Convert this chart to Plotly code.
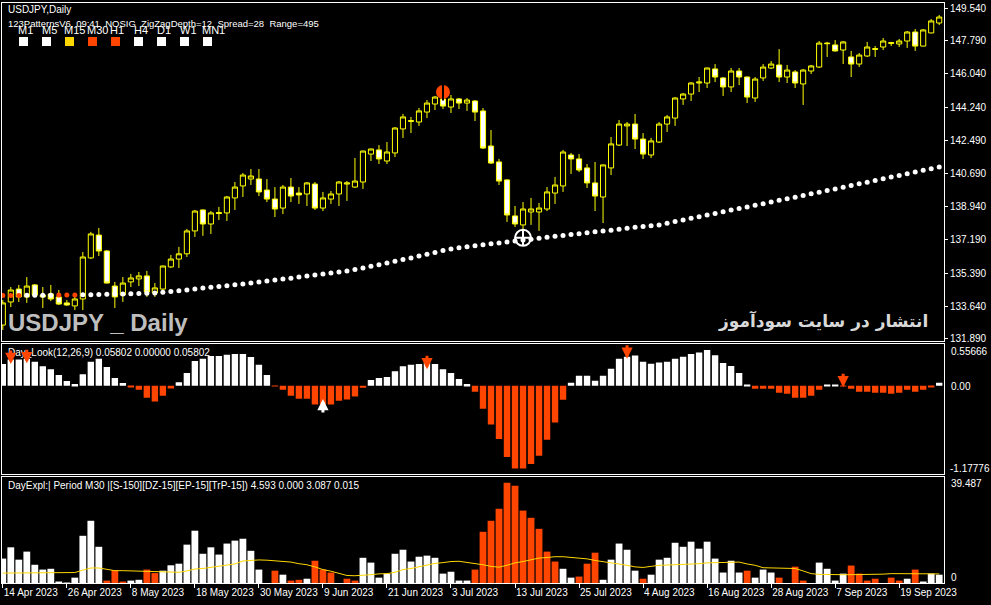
import pandas as pd
import plotly.graph_objects as go

# ---- data ----
dates = pd.bdate_range("2023-04-14", periods=118).strftime("%Y-%m-%d").tolist()

tick_labels = ["14 Apr 2023", "26 Apr 2023", "8 May 2023", "18 May 2023", "30 May 2023",
               "9 Jun 2023", "21 Jun 2023", "3 Jul 2023", "13 Jul 2023", "25 Jul 2023",
               "4 Aug 2023", "16 Aug 2023", "28 Aug 2023", "7 Sep 2023", "19 Sep 2023"]
tick_dates = dates[::8]

price_ticks = [149.540, 147.790, 146.040, 144.240, 142.490, 140.690,
               138.940, 137.190, 135.390, 133.640, 131.890]

open_ = [132.63, 133.86, 134.55, 134.13, 134.77, 134.13, 134.29, 134.13, 133.81, 133.65,
         134.02, 136.21, 137.43, 136.58, 134.71, 134.23, 134.93, 135.09, 135.25, 134.34,
         134.55, 135.73, 136.15, 136.43, 137.65, 138.77, 138.02, 138.63, 138.61, 139.41,
         140.05, 140.42, 140.42, 139.83, 139.35, 138.87, 139.99, 139.67, 139.62, 140.15,
         138.87, 139.35, 139.62, 140.15, 139.99, 140.26, 141.75, 141.97, 141.38, 141.81,
         143.09, 143.49, 143.46, 143.99, 144.42, 144.69, 144.26, 144.69, 144.47, 144.58,
         144.05, 142.18, 141.33, 140.37, 138.45, 137.97, 138.66, 138.66, 138.82, 139.67,
         140.05, 141.70, 141.49, 141.01, 140.21, 139.46, 141.01, 142.23, 143.25, 143.35,
         142.55, 141.70, 142.39, 143.35, 143.67, 144.69, 144.95, 145.54, 145.54, 146.29,
         145.81, 145.33, 146.18, 145.86, 144.74, 145.81, 146.34, 146.50, 145.86, 146.13,
         145.49, 146.18, 146.39, 147.67, 147.57, 147.30, 146.93, 146.55, 146.98, 147.33,
         147.46, 147.65, 147.62, 147.78, 148.26, 147.51, 148.21, 148.74]
high = [133.97, 134.66, 134.77, 135.19, 134.82, 134.66, 134.77, 134.50, 133.97, 134.23,
        136.53, 137.60, 137.81, 136.63, 134.93, 135.19, 135.36, 135.46, 135.52, 134.87,
        135.80, 136.37, 136.80, 137.76, 138.77, 138.79, 138.71, 138.93, 139.51, 140.26,
        140.74, 140.95, 140.95, 140.42, 139.99, 140.10, 140.47, 139.99, 140.26, 140.26,
        139.73, 139.78, 140.31, 140.31, 141.54, 141.93, 142.04, 142.23, 142.39, 143.19,
        143.89, 143.73, 144.21, 144.63, 144.85, 145.06, 144.90, 144.74, 144.74, 144.63,
        144.21, 143.03, 141.49, 140.40, 138.98, 139.19, 139.41, 139.14, 139.99, 140.53,
        141.97, 141.81, 141.75, 141.22, 141.33, 141.19, 142.66, 143.57, 143.46, 143.89,
        142.87, 142.61, 143.46, 143.83, 144.79, 145.01, 145.59, 145.86, 146.36, 146.55,
        145.86, 146.34, 146.34, 145.88, 145.86, 146.55, 146.71, 147.35, 146.50, 146.23,
        146.29, 146.50, 147.78, 147.73, 147.83, 147.78, 147.25, 147.14, 147.73, 147.51,
        147.94, 147.73, 147.89, 148.31, 148.42, 148.42, 148.95, 149.17]
low = [132.37, 133.59, 133.86, 133.81, 134.13, 133.54, 133.91, 133.70, 133.65, 133.43,
       133.43, 136.15, 136.31, 134.85, 133.54, 133.86, 134.66, 134.71, 134.13, 134.13,
       134.39, 135.67, 135.67, 136.26, 137.33, 137.39, 137.49, 138.23, 138.18, 138.77,
       139.46, 140.10, 139.51, 139.19, 138.39, 138.55, 139.19, 139.09, 138.98, 138.77,
       138.71, 139.09, 138.98, 139.25, 139.94, 139.89, 141.38, 141.22, 141.22, 141.59,
       142.61, 142.87, 143.25, 143.67, 144.10, 144.15, 143.94, 144.15, 144.05, 143.51,
       142.02, 141.22, 140.10, 138.13, 137.86, 137.70, 137.97, 137.65, 138.71, 139.09,
       139.73, 140.69, 140.79, 139.94, 138.71, 138.07, 140.63, 142.18, 142.18, 142.02,
       141.49, 141.54, 142.34, 142.93, 143.25, 144.37, 144.58, 145.06, 145.27, 145.59,
       144.85, 145.06, 145.43, 144.47, 144.53, 145.65, 146.29, 145.59, 145.54, 145.27,
       144.37, 146.02, 146.34, 146.93, 147.22, 146.55, 145.86, 146.39, 146.93, 146.93,
       147.30, 147.51, 147.46, 147.41, 147.25, 147.49, 148.19, 148.63]
close = [133.81, 134.50, 134.13, 134.71, 134.23, 134.23, 134.02, 133.75, 133.70, 134.02,
         136.26, 137.49, 136.58, 134.87, 134.13, 134.87, 135.14, 135.25, 134.39, 134.61,
         135.78, 136.15, 136.43, 137.65, 138.71, 138.02, 138.61, 138.58, 139.46, 139.99,
         140.63, 140.58, 139.73, 139.35, 138.82, 139.99, 139.51, 139.57, 140.21, 138.87,
         139.41, 139.62, 140.26, 140.21, 140.31, 141.91, 142.02, 141.49, 141.86, 143.14,
         143.73, 143.53, 144.05, 144.47, 144.79, 144.31, 144.69, 144.47, 144.63, 143.99,
         142.07, 141.27, 140.31, 138.50, 138.02, 138.82, 138.82, 138.87, 139.73, 140.10,
         141.86, 141.49, 140.90, 140.21, 139.51, 141.17, 142.29, 143.35, 143.35, 142.55,
         141.75, 142.45, 143.35, 143.73, 144.74, 144.95, 145.54, 145.59, 146.34, 145.86,
         145.33, 146.18, 145.86, 144.79, 145.75, 146.39, 146.55, 145.86, 146.23, 145.54,
         146.23, 146.45, 147.67, 147.64, 147.25, 147.73, 146.55, 147.03, 147.46, 147.37,
         147.78, 147.69, 147.78, 148.26, 147.51, 148.37, 148.85, 149.06]

# dotted moving average
ma = [134.21, 134.21, 134.21, 134.22, 134.22, 134.22, 134.22, 134.23, 134.23, 134.23,
      134.24, 134.25, 134.26, 134.27, 134.28, 134.29, 134.30, 134.31, 134.32, 134.34,
      134.38, 134.42, 134.46, 134.50, 134.55, 134.60, 134.65, 134.69, 134.73, 134.78,
      134.82, 134.87, 134.92, 134.98, 135.03, 135.08, 135.13, 135.19, 135.24, 135.30,
      135.35, 135.40, 135.46, 135.51, 135.59, 135.67, 135.76, 135.85, 135.94, 136.03,
      136.12, 136.21, 136.31, 136.40, 136.50, 136.60, 136.69, 136.75, 136.80, 136.86,
      136.91, 136.96, 137.01, 137.06, 137.11, 137.17, 137.21, 137.26, 137.31, 137.36,
      137.41, 137.46, 137.50, 137.55, 137.60, 137.64, 137.69, 137.74, 137.79, 137.84,
      137.89, 137.93, 137.97, 138.06, 138.15, 138.23, 138.32, 138.41, 138.50, 138.58,
      138.67, 138.76, 138.84, 138.93, 139.02, 139.10, 139.19, 139.28, 139.36, 139.45,
      139.54, 139.63, 139.71, 139.80, 139.89, 139.98, 140.07, 140.16, 140.25, 140.34,
      140.43, 140.52, 140.61, 140.70, 140.79, 140.88, 140.97, 141.06]
ma_red_bars = [0, 1, 2, 7, 8, 9]

# zigzag signals on the price panel
peak_bar, peak_price = 55, 145.06
cross_bar, cross_price = 65, 137.28

# Day_Look histogram
look = [0.29, 0.35, 0.35, 0.36, 0.32, 0.26, 0.22, 0.145, 0.063, 0.023,
        0.155, 0.32, 0.36, 0.25, 0.103, 0.036, -0.013, -0.053, -0.161, -0.213,
        -0.135, -0.039, 0.048, 0.17, 0.33, 0.36, 0.40, 0.40, 0.415, 0.425,
        0.425, 0.385, 0.28, 0.145, -0.01, -0.053, -0.135, -0.174, -0.174, -0.251,
        -0.251, -0.251, -0.203, -0.184, -0.145, -0.029, 0.077, 0.103, 0.116, 0.193,
        0.26, 0.28, 0.29, 0.31, 0.29, 0.22, 0.17, 0.09, 0.023, -0.08,
        -0.31, -0.52, -0.715, -0.955, -1.11, -1.11, -1.05, -0.94, -0.725, -0.495,
        -0.19, 0.04, 0.135, 0.135, 0.068, 0.135, 0.228, 0.36, 0.39, 0.405,
        0.32, 0.295, 0.31, 0.32, 0.36, 0.39, 0.425, 0.445, 0.48, 0.41,
        0.305, 0.265, 0.17, 0.01, -0.04, -0.04, -0.04, -0.094, -0.107, -0.16,
        -0.16, -0.134, -0.054, 0.008, 0.008, -0.005, -0.04, -0.08, -0.08, -0.094,
        -0.094, -0.107, -0.094, -0.054, -0.08, -0.054, -0.013, 0.04]
# signal arrows: bar index and the value at the arrow tip
down_arrow_bars = [1, 3, 53, 78, 105]
down_arrow_tips = [0.29, 0.30, 0.22, 0.36, -0.02]
up_arrow_bars = [40]
up_arrow_tips = [-0.18]

# DayExpl histogram (W = white bar, R = orange-red bar) and its signal line
expl = [9.1, 13.3, 8.7, 11.7, 6.8, 5.0, 5.3, 0.5, 0.1, 2.0,
        17.6, 23.2, 13.5, 0.9, 4.8, 0.5, 0.9, 1.2, 5.0, 3.7,
        4.6, 6.6, 7.2, 14.3, 19.5, 10.9, 13.3, 10.6, 14.7, 15.8,
        16.5, 12.0, 5.0, 0.0, 4.6, 3.1, 0.9, 1.2, 1.6, 8.3,
        5.0, 3.9, 0.0, 1.6, 0.9, 9.4, 7.6, 2.0, 3.5, 10.9,
        12.4, 8.0, 9.8, 10.2, 9.4, 3.5, 4.2, 0.9, 0.9, 5.0,
        19.1, 23.2, 27.7, 37.4, 36.3, 27.0, 24.3, 20.2, 11.7, 8.0,
        5.3, 2.0, 2.4, 7.2, 11.3, 1.2, 8.7, 14.7, 12.4, 4.6,
        1.6, 3.1, 8.7, 9.4, 15.0, 13.5, 15.4, 12.8, 15.4, 9.1,
        3.9, 8.3, 3.9, 4.6, 2.0, 5.0, 3.9, 2.0, 0.0, 6.1,
        0.9, 0.0, 7.6, 5.3, 0.9, 3.5, 6.5, 3.5, 0.9, 1.6,
        0.0, 2.0, 0.9, 1.6, 5.0, 0.5, 3.5, 3.1]
expl_side = ("WWWWWWWWWW" "WWWRRRWWRR" "WWWWWWWWWW" "WWWWRWRRWR"
             "RRRRRWWWWW" "WWWWWWWWWR" "RRRRRRRRRR" "WWRRRWWWWW"
             "RWWWWWWWWW" "WWWRWWWRRR" "RRWWWWRRRR" "RRRWRWWW")
expl_line = [3.7, 3.7, 3.7, 3.7, 3.7, 3.7, 3.7, 3.7, 3.7, 3.9,
             4.8, 5.6, 5.6, 5.2, 4.6, 4.6, 4.5, 4.4, 4.3, 4.2,
             4.1, 4.0, 4.0, 4.5, 5.2, 5.4, 5.8, 6.2, 6.7, 7.1,
             8.2, 8.5, 8.6, 8.5, 8.3, 8.0, 7.8, 7.2, 6.8, 6.0,
             5.0, 4.4, 3.6, 2.8, 2.7, 2.8, 3.1, 3.4, 3.5, 4.0,
             5.0, 5.4, 6.0, 6.6, 7.3, 7.6, 8.0, 8.1, 7.7, 7.3,
             6.8, 6.2, 5.9, 6.6, 7.5, 8.0, 8.6, 9.3, 9.5, 9.8,
             9.8, 9.6, 9.3, 9.0, 8.4, 8.0, 7.5, 7.1, 6.6, 6.0,
             5.8, 6.2, 6.6, 6.7, 6.8, 6.9, 7.0, 7.2, 7.5, 7.6,
             7.7, 7.8, 7.8, 7.1, 6.6, 5.7, 5.6, 5.6, 5.6, 5.4,
             4.5, 3.5, 3.2, 3.1, 3.1, 3.1, 3.1, 3.1, 3.1, 3.1,
             3.3, 3.5, 3.5, 3.4, 3.4, 3.4, 3.4, 3.4]

tf_names = ["M1", "M5", "M15", "M30", "H1", "H4", "D1", "W1", "MN1"]
tf_colors = ["white", "white", "#FFD700", "#FF4500", "#FF4500",
             "white", "white", "white", "white"]

# ---- colours / fonts ----
RED = "#FF4500"
YEL = "#FFFF00"
FONT = "Liberation Sans, Arial, sans-serif"


# pixel helpers for the text overlays (plot area spans x 2..944, y 3..583)
def px(x):
    return (x - 2) / 942


def py(y):
    return (583 - y) / 580


fig = go.Figure()

# ---- price panel ----
fig.add_trace(go.Candlestick(
    x=dates, open=open_, high=high, low=low, close=close,
    increasing=dict(line=dict(color=YEL, width=1), fillcolor="black"),
    decreasing=dict(line=dict(color=YEL, width=1), fillcolor="white"),
    whiskerwidth=0, xaxis="x", yaxis="y", showlegend=False))

ma_colors = [RED if i in ma_red_bars else "white" for i in range(len(ma))]
fig.add_trace(go.Scatter(
    x=dates, y=ma, mode="markers", xaxis="x", yaxis="y",
    marker=dict(size=5, color=ma_colors, line_width=0), showlegend=False))

fig.add_trace(go.Scatter(
    x=[dates[peak_bar]], y=[peak_price], mode="markers", xaxis="x", yaxis="y",
    marker=dict(symbol="circle", size=14, color=RED, line_width=0), showlegend=False))
fig.add_trace(go.Scatter(
    x=[dates[peak_bar]], y=[peak_price], mode="markers", xaxis="x", yaxis="y",
    marker=dict(symbol="line-ns", size=12, line=dict(color="black", width=2)),
    showlegend=False))
fig.add_trace(go.Scatter(
    x=[dates[cross_bar]], y=[cross_price], mode="markers", xaxis="x", yaxis="y",
    marker=dict(symbol="circle-cross-open", size=16, color="white",
                line=dict(color="white", width=2)), showlegend=False))

# ---- Day_Look panel ----
fig.add_trace(go.Bar(
    x=dates, y=look, width=0.8, xaxis="x2", yaxis="y2",
    marker=dict(color=["white" if v > 0 else RED for v in look], line_width=0),
    showlegend=False))

# ---- DayExpl panel ----
fig.add_trace(go.Bar(
    x=dates, y=expl, width=0.85, xaxis="x3", yaxis="y3",
    marker=dict(color=["white" if s == "W" else RED for s in expl_side], line_width=0),
    showlegend=False))
fig.add_trace(go.Scatter(
    x=dates, y=expl_line, mode="lines", xaxis="x3", yaxis="y3",
    line=dict(color="#FFD700", width=1), showlegend=False))

# ---- axes ----
box = dict(showline=True, mirror=True, linecolor="white", linewidth=1,
           showgrid=False, zeroline=False, automargin=False)
xbase = dict(type="category", range=[-0.1, 117.6], **box)

fig.update_layout(
    width=991, height=605,
    margin=dict(l=2, r=47, t=3, b=22, autoexpand=False),
    paper_bgcolor="black", plot_bgcolor="black",
    boxgap=0.36, boxgroupgap=0,
    font=dict(family=FONT, size=10, color="white"),
    xaxis=dict(anchor="y", showticklabels=False, rangeslider=dict(visible=False), **xbase),
    xaxis2=dict(anchor="y2", matches="x", showticklabels=False, **xbase),
    xaxis3=dict(anchor="y3", matches="x", tickvals=tick_dates, ticktext=tick_labels,
                ticks="outside", ticklen=4, tickcolor="white", tickangle=0,
                ticklabelposition="outside right",
                tickfont=dict(family=FONT, size=10, color="white"), **xbase),
    yaxis=dict(domain=[0.4164, 1.0], range=[131.753, 149.807], side="right",
               tickvals=price_ticks, ticktext=[f"{v:.3f}" for v in price_ticks],
               ticks="outside", ticklen=3, tickcolor="white",
               tickfont=dict(family=FONT, size=10, color="white"), **box),
    yaxis2=dict(domain=[0.1879, 0.4129], range=[-1.185, 0.566], side="right",
                showticklabels=False, **box),
    yaxis3=dict(domain=[0.0, 0.1836], range=[0, 39.7], side="right",
                showticklabels=False, **box),
)

# ---- text overlays ----
ann = []


def text(x, y, s, size=10, color="white", anchor="left", family=FONT):
    ann.append(dict(x=px(x), y=py(y), xref="paper", yref="paper", text=s,
                    showarrow=False, xanchor=anchor, yanchor="middle",
                    font=dict(family=family, size=size, color=color)))


text(6, 9, "USDJPY,Daily")
text(6, 23.5, "123PatternsV6, 09:41  NOSIG  ZigZagDepth=12  Spread=28  Range=495", size=9.5)
tf_left = [17, 41, 63, 86, 109, 133, 156, 179, 201]
for name, xl in zip(tf_names, tf_left):
    text(xl - 1, 30, name, size=11)
shapes = []
for i, c in enumerate(tf_colors):
    x0 = 19 + 23 * i
    shapes.append(dict(type="rect", xref="paper", yref="paper",
                       x0=px(x0), x1=px(x0 + 9), y0=py(46), y1=py(37),
                       fillcolor=c, line_width=0))

text(6, 322, "<b>USDJPY _ Daily</b>", size=24, color="#BEBEBE")
text(930, 321, "<b>انتشار در سایت سودآموز</b>", size=17, color="#D9D9D9",
     anchor="right", family="DejaVu Sans, sans-serif")

text(6, 352, "Day_Look(12,26,9) 0.05802 0.00000 0.05802")
text(6, 486, "DayExpl:| Period M30 |[S-150][DZ-15][EP-15][TrP-15]) 4.593 0.000 3.087 0.015")

text(949, 351, "0.55666")
text(949, 386.5, "0.00")
text(948, 468, "-1.17776")
text(949, 483, "39.487")
text(949, 577, "0")

# thick signal arrows in the Day_Look window
for b, v in zip(down_arrow_bars, down_arrow_tips):
    ann.append(dict(x=dates[b], y=v, xref="x2", yref="y2", text="", showarrow=True,
                    ax=0, ay=-15, arrowhead=2, arrowsize=0.75, arrowwidth=3, arrowcolor=RED))
for b, v in zip(up_arrow_bars, up_arrow_tips):
    ann.append(dict(x=dates[b], y=v, xref="x2", yref="y2", text="", showarrow=True,
                    ax=0, ay=15, arrowhead=2, arrowsize=0.75, arrowwidth=3, arrowcolor="white"))

fig.update_layout(annotations=ann, shapes=shapes)

# the page body has an 8px default margin; drop it so the chart sits at 0,0
fig.write_html("out.html", config={"displayModeBar": False},
               post_script="document.body.style.margin='0';document.body.style.padding='0';")
